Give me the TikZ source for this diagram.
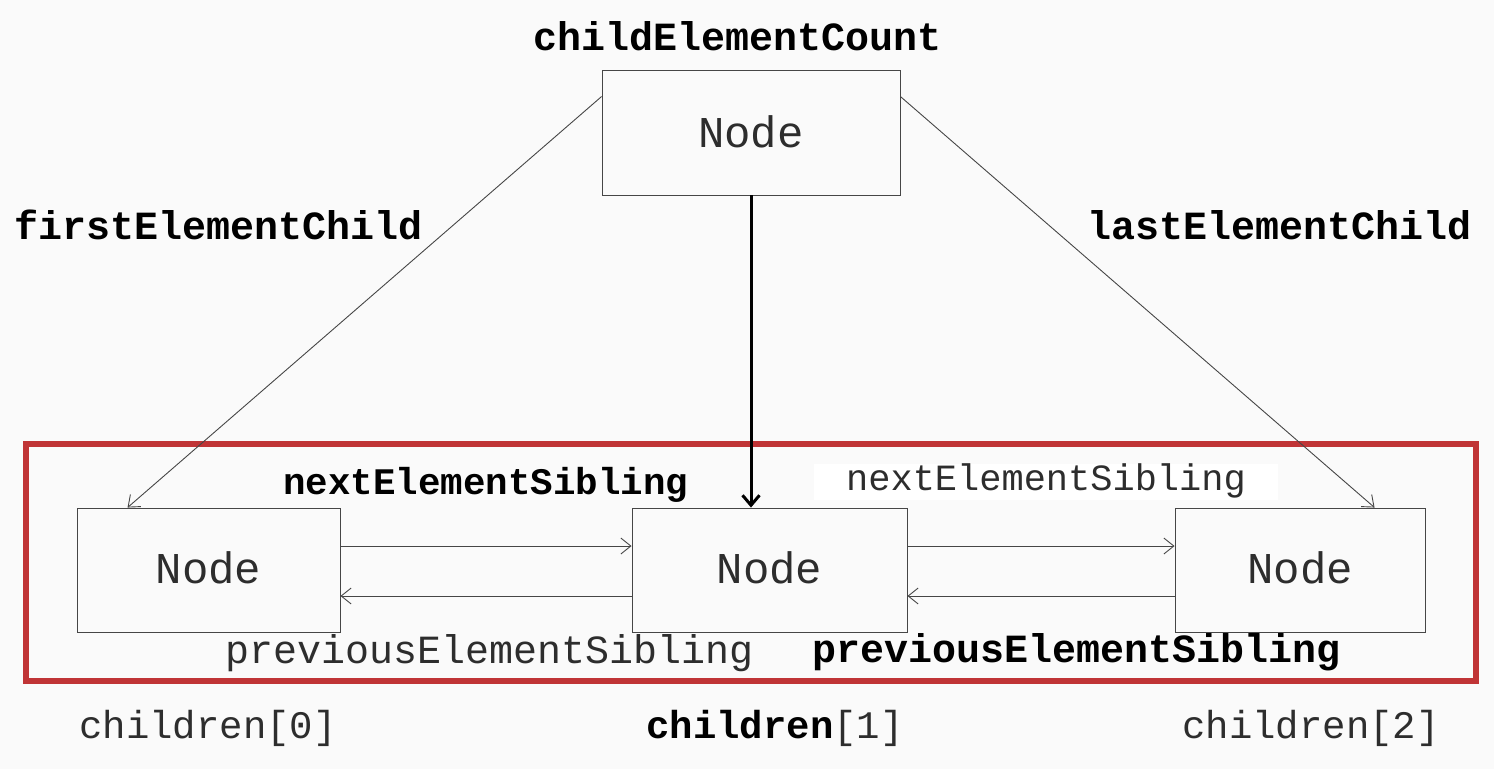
\documentclass[tikz,border=0pt]{standalone}
\usepackage{fontspec}
\setmainfont{Liberation Mono}
\usetikzlibrary{arrows.meta}
\definecolor{bgc}{RGB}{250,250,250}
\definecolor{redc}{RGB}{192,52,54}
\definecolor{txt}{RGB}{45,45,45}
\definecolor{ln}{RGB}{70,70,70}
\tikzset{
  box/.style={draw=ln, line width=0.9pt, fill=bgc, minimum width=#1, minimum height=124pt, inner sep=0pt},
  lbl/.style={anchor=base, inner sep=0pt, font=\fontsize{40}{40}\selectfont, text=txt},
  blbl/.style={anchor=base, inner sep=0pt, font=\fontsize{40}{40}\selectfont\bfseries, text=black},
  nodetxt/.style={anchor=base, inner sep=0pt, font=\fontsize{44}{44}\selectfont, text=txt},
  conn/.style={draw=ln, line width=0.9pt, -{Straight Barb[length=10pt,width=16pt]}},
  thick conn/.style={draw=black, line width=3pt, -{Straight Barb[length=10pt,width=17pt,line width=3pt]}},
}
\begin{document}
\begin{tikzpicture}[x=1pt,y=-1pt]
\fill[bgc] (0,0) rectangle (1494,769);
\useasboundingbox (0,0) rectangle (1494,769);
% red frame
\draw[redc, line width=6pt] (26,444) rectangle (1476,681);
% boxes
\node[box=298pt, minimum height=125pt] (top) at (751,132.5) {};
\node[box=263pt] (n0) at (208.5,570) {};
\node[box=275pt] (n1) at (769.5,570) {};
\node[box=250pt] (n2) at (1300,570) {};
% Node texts
\node[nodetxt] (t0) at (751,147) {Node};
\node[nodetxt] (t1) at (208.5,583) {Node};
\node[nodetxt] (t2) at (769.5,583) {Node};
\node[nodetxt] (t3) at (1300,583) {Node};
% labels
\node[blbl] (lcount) at (738,50) {childElementCount};
\node[blbl] (lfirst) at (219,239) {firstElementChild};
\node[blbl] (llast) at (1280,239) {lastElementChild};
\node[blbl, font=\fontsize{37.5}{37.5}\selectfont\bfseries] (lnext1) at (486,494) {nextElementSibling};
\node[lbl, font=\fontsize{37}{37}\selectfont, fill=white, inner xsep=32pt, inner ysep=1pt, text height=25pt, text depth=9pt] (lnext2) at (1046,490) {nextElementSibling};
\node[lbl] (lprev1) at (490,663) {previousElementSibling};
\node[blbl] (lprev2) at (1077,662) {previousElementSibling};
\node[lbl, font=\fontsize{39}{39}\selectfont] (c0) at (208,738) {children[0]};
\node[lbl, font=\fontsize{39}{39}\selectfont] (c1) at (775,738) {\textbf{\color{black}children}[1]};
\node[lbl, font=\fontsize{39}{39}\selectfont] (c2) at (1311,738) {children[2]};
% connectors
\draw[conn] ([yshift=-27pt]top.north west) -- ([xshift=51pt]n0.north west);
\draw[conn] ([yshift=-27pt]top.north east) -- ([xshift=200pt]n2.north west);
\draw[thick conn] (top.south) -- (top.south |- n1.north);
\draw[conn] ([yshift=24pt]n0.east) -- ([yshift=24pt]n1.west);
\draw[conn] ([yshift=-26pt]n1.west) -- ([yshift=-26pt]n0.east);
\draw[conn] ([yshift=24pt]n1.east) -- ([yshift=24pt]n2.west);
\draw[conn] ([yshift=-26pt]n2.west) -- ([yshift=-26pt]n1.east);
\end{tikzpicture}
\end{document}
